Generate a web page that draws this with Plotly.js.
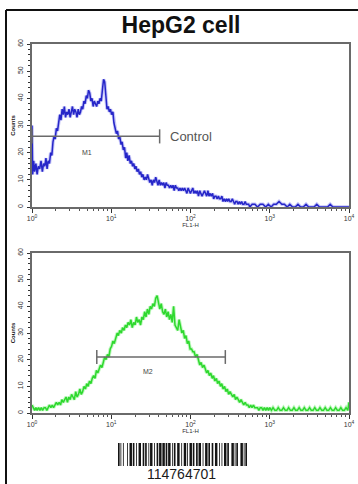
<!DOCTYPE html>
<html><head><meta charset="utf-8">
<script src="https://cdn.plot.ly/plotly-3.0.1.min.js"></script>
<style>html,body{margin:0;padding:0;background:#fff;}#chart{width:358px;height:484px;}</style>
</head><body><div id="chart"></div>
<script>
// ---- data ----
const chartTitle = 'HepG2 cell';
const barcodeLabel = '114764701';
const xTickVals = [1, 10, 100, 1000, 10000];
const xTickText = ['10<sup>0</sup>', '10<sup>1</sup>', '10<sup>2</sup>', '10<sup>3</sup>', '10<sup>4</sup>'];
const yTickVals = [0, 10, 20, 30, 40, 50, 60];

const controlFL1 = [
 1.00,1.02,1.05,1.08,1.12,1.16,1.20,1.25,1.30,1.35,
 1.40,1.45,1.50,1.55,1.60,1.66,1.72,1.78,1.84,1.90,
 1.96,2.03,2.10,2.17,2.24,2.32,2.40,2.48,2.56,2.65,
 2.74,2.83,2.93,3.03,3.13,3.24,3.35,3.46,3.58,3.70,
 3.83,3.96,4.09,4.23,4.37,4.52,4.68,4.84,5.00,5.17,
 5.35,5.53,5.72,5.91,6.11,6.32,6.54,6.76,6.99,7.23,
 7.48,7.73,8.00,8.27,8.55,8.84,9.14,9.46,9.78,10.1,
 10.5,10.8,11.2,11.6,12.0,12.4,12.8,13.3,13.7,14.2,
 14.7,15.2,15.7,16.2,16.8,17.4,18.0,18.6,19.2,19.9,
 20.5,21.2,22.0,22.7,23.5,24.3,25.1,26.0,26.9,27.8,
 28.7,29.7,30.7,31.8,32.9,34.0,35.2,36.4,37.6,38.9,
 40.2,41.6,43.0,44.5,46.0,47.6,49.2,50.9,52.6,54.4,
 56.3,58.2,60.2,62.3,64.4,66.6,68.9,71.3,73.7,76.2,
 78.8,81.5,84.3,87.2,90.2,93.3,96.5,99.8,103,107,
 110,114,118,122,126,131,135,140,145,150,
 155,160,166,171,177,183,190,196,203,210,
 217,225,232,240,249,257,266,275,285,294,
 304,315,326,337,349,361,373,386,399,413,
 427,442,457,473,489,506,523,541,560,600,
 650,700,760,820,890,960,1040,1120,1210,1310,
 1420,1530,1660,1790,1940,2100,2270,2450,2650,2870,
 3100,3350,3620,3920,4240,4580,4950,5360,5790,6260,
 6770,7320,7920,8560,9260,10000];
const controlCounts = [
 30,12,17,13,16,12,15,14,17,13,
 16,15,18,14,17,16,20,19,24,26,
 25,29,28,32,34,32,36,34,37,33,
 35,34,36,33,35,37,34,36,35,33,
 36,34,35,37,36,39,38,41,40,43,
 42,39,40,37,39,38,37,39,38,40,
 39,43,47,46,40,36,37,35,36,34,
 35,31,29,27,28,25,26,23,24,21,
 22,18,20,17,19,16,17,15,16,14,
 15,13,14,12,13,11,12,10,11,10,
 12,10,9,10,8,10,9,11,9,8,
 10,8,9,8,9,7,9,8,8,7,
 8,7,8,6,8,7,7,6,7,6,
 7,6,7,6,5,7,6,5,6,7,
 5,6,5,6,4,6,5,4,5,6,
 5,4,6,4,5,4,5,3,4,4,
 3,4,3,3,4,2,3,2,3,2,
 3,2,2,3,2,1,2,2,1,2,
 1,2,1,1,2,1,1,1,0,1,
 1,0,1,1,0,1,0,1,1,2,
 1,1,0,1,0,0,1,0,0,1,
 0,0,0,1,0,0,0,0,1,0,
 0,0,0,0,0,0];

const sampleFL1 = [
 1.00,1.04,1.08,1.12,1.16,1.21,1.26,1.31,1.36,1.42,
 1.48,1.54,1.60,1.66,1.73,1.80,1.87,1.95,2.03,2.11,
 2.20,2.29,2.38,2.48,2.58,2.69,2.80,2.91,3.03,3.16,
 3.29,3.42,3.56,3.71,3.86,4.02,4.18,4.35,4.53,4.72,
 4.91,5.11,5.32,5.54,5.76,6.00,6.25,6.50,6.77,7.04,
 7.33,7.63,7.94,8.27,8.60,8.96,9.32,9.70,10.1,10.5,
 10.9,11.4,11.9,12.3,12.8,13.4,13.9,14.5,15.1,15.7,
 16.3,17.0,17.7,18.4,19.2,20.0,20.8,21.6,22.5,23.4,
 24.4,25.4,26.4,27.5,28.6,29.8,31.0,32.2,33.6,35.0,
 36.4,37.9,39.4,41.0,42.7,44.5,46.3,48.2,50.1,52.2,
 54.3,56.5,58.8,61.2,63.7,66.3,69.0,71.8,74.8,77.8,
 81.0,84.3,87.7,91.3,95.0,98.9,103,107,111,116,
 121,126,131,136,142,148,154,160,166,173,
 180,188,195,203,212,220,229,239,248,258,
 269,280,291,303,315,328,342,356,370,385,
 401,417,434,452,470,489,509,530,552,574,
 597,622,647,673,701,729,759,790,822,856,
 891,927,965,1000,1050,1100,1160,1220,1280,1350,
 1420,1490,1570,1650,1730,1820,1920,2020,2120,2230,
 2350,2470,2600,2730,2870,3020,3180,3340,3520,3700,
 3890,4090,4300,4530,4760,5010,5270,5540,5830,6130,
 6450,6780,7130,7500,7890,8300,8730,9180,9660,10000];
const sampleCounts = [
 3,2,1,2,1,2,1,2,1,2,
 2,1,2,3,2,3,2,3,4,3,
 4,3,5,4,5,6,4,6,5,7,
 6,5,8,6,7,9,7,8,10,9,
 11,10,12,11,13,14,13,16,15,17,
 18,17,19,21,20,22,21,24,25,27,
 26,28,30,29,31,30,32,31,33,32,
 34,33,35,32,34,33,36,34,35,33,
 36,35,38,36,39,37,40,39,41,40,
 43,44,42,39,41,38,37,39,36,38,
 35,37,34,40,33,32,31,35,32,30,
 31,28,29,26,27,24,24,23,23,21,
 22,20,18,19,17,18,16,15,16,14,
 15,13,14,12,13,11,12,10,11,9,
 10,8,9,7,8,7,6,7,5,6,
 5,4,5,4,3,4,3,3,2,3,
 2,3,2,2,2,1,2,2,1,2,
 1,2,1,2,1,2,1,1,2,1,
 1,2,1,1,2,1,1,2,1,1,
 2,1,1,2,1,1,2,1,1,2,
 1,1,2,1,1,2,1,1,2,1,
 1,2,1,1,2,1,1,2,1,4];

// gate markers: [from, to], level
const gateM1 = [1, 40.8], gateM1Level = 26, gateM1Label = 'M1';
const gateM2 = [6.57, 275], gateM2Level = 21, gateM2Label = 'M2';
const controlLabel = 'Control';

// decorative barcode modules
const barcodeModules = '1101001000010011101100100111001101100101110010011011101110110111001011001110010011101001110110011011100100111011001100111001001001110110001110101100011101011';

// ---- layout helpers (page pixel -> paper) ----
const W = 358, H = 484;
const px = x => x / W;
const py = y => 1 - y / H;

const minorX = [];
[1, 10, 100, 1000].forEach(d => { for (let k = 2; k <= 9; k++) minorX.push(k * d); });

const FONT = 'Liberation Sans, Arial, sans-serif';

function xAxis(dom, anchor) {
  return {
    domain: dom, anchor: anchor, type: 'log', range: [0, 4],
    tickmode: 'array', tickvals: xTickVals, ticktext: xTickText,
    ticks: 'outside', ticklen: 4, tickwidth: 1, tickcolor: '#333',
    showline: true, linecolor: '#6a6a6a', linewidth: 2, mirror: true,
    showgrid: false, zeroline: false,
    tickfont: {family: FONT, size: 7, color: '#333'},
    title: {text: 'FL1-H', font: {family: FONT, size: 6, color: '#333'}, standoff: 1},
    minor: {tickmode: 'array', tickvals: minorX, ticks: 'outside', ticklen: 2, tickcolor: '#555', showgrid: false}
  };
}
function yAxis(dom, anchor) {
  return {
    domain: dom, anchor: anchor, range: [0, 60],
    tickmode: 'array', tickvals: yTickVals, tickangle: -90,
    ticks: 'outside', ticklen: 3, tickwidth: 1, tickcolor: '#333',
    showline: true, linecolor: '#6a6a6a', linewidth: 2, mirror: true,
    showgrid: false, zeroline: false,
    tickfont: {family: FONT, size: 7, color: '#333'},
    ticklabelstandoff: 1,
    title: {text: '<b>Counts</b>', font: {family: FONT, size: 6, color: '#222'}, standoff: 1},
    minor: {dtick: 2, ticks: 'outside', ticklen: 2, tickcolor: '#333', showgrid: false}
  };
}

const traces = [
  {x: controlFL1, y: controlCounts, xaxis: 'x', yaxis: 'y', mode: 'lines', hoverinfo: 'skip',
   line: {color: 'rgba(90,90,235,0.35)', width: 3.5}},
  {x: controlFL1, y: controlCounts, xaxis: 'x', yaxis: 'y', mode: 'lines',
   line: {color: '#2626c8', width: 1.5}},
  {x: sampleFL1, y: sampleCounts, xaxis: 'x2', yaxis: 'y2', mode: 'lines', hoverinfo: 'skip',
   line: {color: 'rgba(90,235,90,0.4)', width: 3.5}},
  {x: sampleFL1, y: sampleCounts, xaxis: 'x2', yaxis: 'y2', mode: 'lines',
   line: {color: '#2ed82e', width: 1.5}}
];

const gateLine = {color: '#6a6a6a', width: 1.5};
function gateShapes(g, lvl, xr, yr) {
  return [
    {type: 'line', xref: xr, yref: yr, x0: g[0], x1: g[1], y0: lvl, y1: lvl, line: gateLine},
    {type: 'line', xref: xr, yref: yr, x0: g[0], x1: g[0], y0: lvl - 2.6, y1: lvl + 2.6, line: gateLine},
    {type: 'line', xref: xr, yref: yr, x0: g[1], x1: g[1], y0: lvl - 2.6, y1: lvl + 2.6, line: gateLine}
  ];
}

const shapes = [].concat(
  gateShapes(gateM1, gateM1Level, 'x', 'y'),
  gateShapes(gateM2, gateM2Level, 'x2', 'y2'),
  [
    {type: 'line', xref: 'paper', yref: 'paper', x0: px(6), x1: 1.02, y0: py(10), y1: py(10), line: {color: '#111', width: 2}},
    {type: 'line', xref: 'paper', yref: 'paper', x0: px(6), x1: px(6), y0: py(10), y1: -0.02, line: {color: '#111', width: 2}}
  ]
);

// barcode from module string
(function () {
  const bx0 = 118, bw = 129, by0 = 443, by1 = 466;
  const m = bw / barcodeModules.length;
  let i = 0;
  while (i < barcodeModules.length) {
    if (barcodeModules[i] === '1') {
      let j = i;
      while (j < barcodeModules.length && barcodeModules[j] === '1') j++;
      shapes.push({type: 'rect', xref: 'paper', yref: 'paper',
        x0: px(bx0 + i * m), x1: px(bx0 + j * m), y0: py(by1), y1: py(by0),
        fillcolor: '#141414', line: {width: 0}});
      i = j;
    } else i++;
  }
})();

const annotations = [
  {xref: 'x', yref: 'y', x: Math.log10(52), y: gateM1Level, text: controlLabel, showarrow: false,
   xanchor: 'left', yanchor: 'middle', font: {family: FONT, size: 13, color: '#555'}},
  {xref: 'x', yref: 'y', x: Math.log10(4.9), y: gateM1Level - 6, text: gateM1Label, showarrow: false,
   font: {family: FONT, size: 7, color: '#444'}},
  {xref: 'x2', yref: 'y2', x: Math.log10(28.8), y: gateM2Level - 5.6, text: gateM2Label, showarrow: false,
   font: {family: FONT, size: 7, color: '#444'}},
  {xref: 'paper', yref: 'paper', x: px(181), y: py(474), text: barcodeLabel, showarrow: false,
   xanchor: 'center', yanchor: 'middle', font: {family: FONT, size: 14, color: '#1a1a1a'}}
];

const layout = {
  width: W, height: H,
  margin: {l: 0, r: 0, t: 0, b: 0, pad: 0},
  paper_bgcolor: '#fff', plot_bgcolor: '#fff',
  showlegend: false,
  title: {text: '<b>' + chartTitle + '</b>', x: px(181), xanchor: 'center', xref: 'paper',
          y: py(25), yref: 'paper', yanchor: 'middle', font: {family: FONT, size: 23, color: '#111'}},
  xaxis: xAxis([px(32), px(349)], 'y'),
  yaxis: yAxis([py(207), py(44)], 'x'),
  xaxis2: xAxis([px(32), px(349)], 'y2'),
  yaxis2: yAxis([py(413), py(253)], 'x2'),
  shapes: shapes,
  annotations: annotations
};

Plotly.newPlot('chart', traces, layout, {displayModeBar: false, staticPlot: true});
</script>
</body></html>
